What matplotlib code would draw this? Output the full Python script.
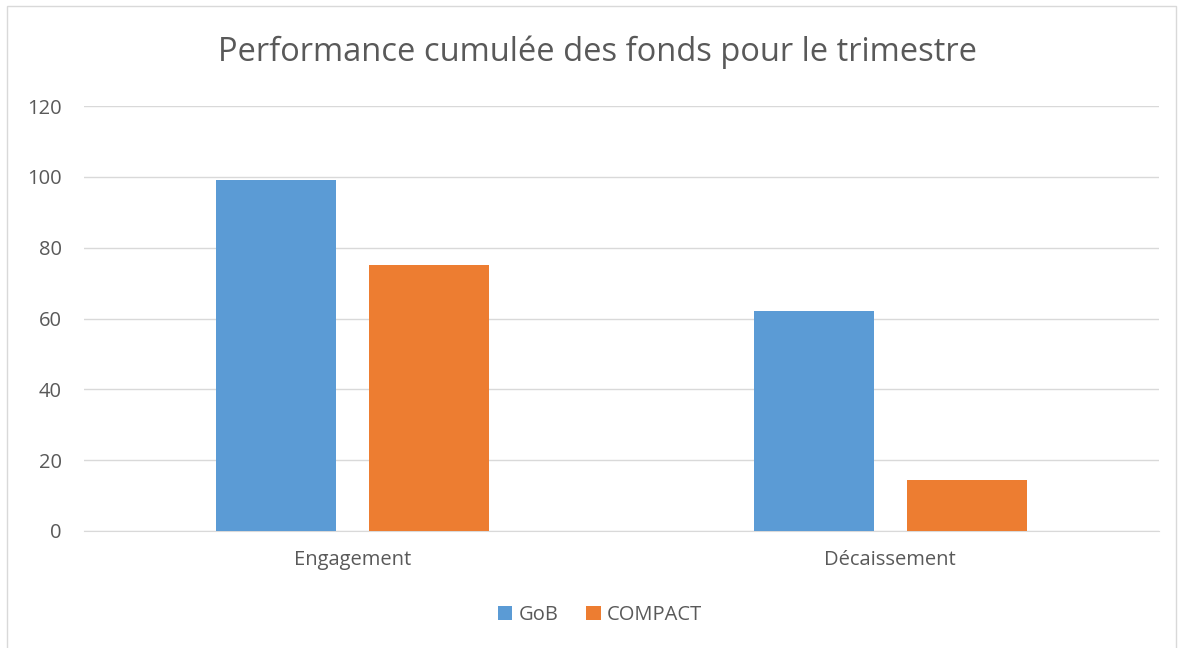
import numpy as np
import matplotlib
matplotlib.use("Agg")
from matplotlib import pyplot as plt
from matplotlib.patches import Rectangle

# data
categories = ['Engagement', 'Décaissement']
gob = [99.1, 62.1]
compact = [75.0, 14.4]
series_names = ['GoB', 'COMPACT']

plt.rcParams['font.family'] = ['Open Sans', 'DejaVu Sans']
text_color = '#595959'
grid_color = '#D9D9D9'

fig = plt.figure(figsize=(11.84, 6.48), dpi=100)
ax = fig.add_axes([84 / 1184, 1 - 531 / 648, 1075 / 1184, 425 / 648])

# outer chart frame
fig.patches.append(Rectangle((7 / 1184, -0.01), 1169 / 1184, 1 - 6 / 648 + 0.01,
                             transform=fig.transFigure, fill=False,
                             edgecolor='#D9D9D9', linewidth=1))

x = np.arange(len(categories))
width = 0.223
gap = 0.0615
ax.bar(x - (width + gap) / 2, gob, width, color='#5B9BD5', label=series_names[0], zorder=3)
ax.bar(x + (width + gap) / 2, compact, width, color='#ED7D31', label=series_names[1], zorder=3)

ax.set_xlim(-0.5, 1.5)
ax.set_ylim(0, 120)
ax.set_yticks(range(0, 121, 20))
ax.set_xticks(x)
ax.set_xticklabels(categories)
ax.yaxis.grid(True, color=grid_color, linewidth=1, zorder=0)

for s in ['top', 'right', 'left']:
    ax.spines[s].set_visible(False)
ax.spines['bottom'].set_color(grid_color)
ax.tick_params(axis='both', length=0, colors=text_color, labelsize=14.5)
ax.tick_params(axis='x', pad=14)
ax.tick_params(axis='y', pad=16)

fig.text(597 / 1184, 1 - 52 / 648, 'Performance cumulée des fonds pour le trimestre',
         ha='center', va='center', fontsize=23.5, color=text_color)

fig.legend(loc='center', bbox_to_anchor=(600 / 1184, 1 - 615 / 648), ncol=2,
           frameon=False, fontsize=14.5, labelcolor=text_color,
           handlelength=0.7, handleheight=0.7, handletextpad=0.3, columnspacing=1.4)

fig.savefig('out.png', dpi=100)
